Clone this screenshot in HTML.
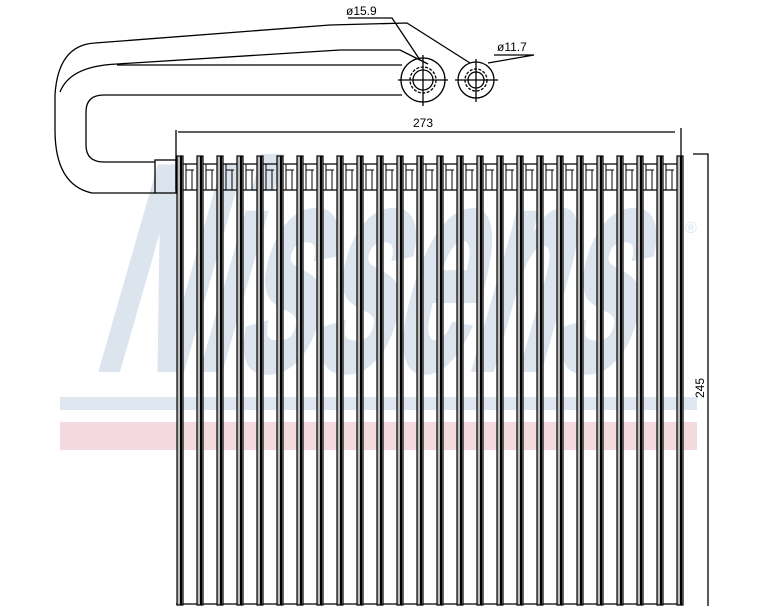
<!DOCTYPE html>
<html><head><meta charset="utf-8"><style>
html,body{margin:0;padding:0;background:#fff;width:765px;height:612px;overflow:hidden}
svg{display:block}
</style></head><body>
<svg width="765" height="612" viewBox="0 0 765 612" xmlns="http://www.w3.org/2000/svg">
<!-- watermark -->
<g transform="translate(0,368) skewX(-16) translate(0,-368)">
<text x="92" y="368" font-family="Liberation Sans, sans-serif" font-weight="bold" font-size="290" fill="#dce5ee" stroke="#dce5ee" stroke-width="8" textLength="535" lengthAdjust="spacingAndGlyphs">Nissens</text>
</g>
<text x="685" y="233" font-family="Liberation Sans, sans-serif" font-size="16" fill="#dde6ef">®</text>
<rect x="60" y="397" width="637" height="13" fill="#dfe7f0"/>
<rect x="60" y="422" width="637" height="28" fill="#f4dadf"/>

<g fill="none" stroke="#000" stroke-width="1.3">
<!-- pipes -->
<path d="M104,193 L92,193 Q55,185 55,130 L55,95 Q58,45 95,43 L330,25 L407,23 L470,63"/>
<path d="M60,92 Q70,66 117,64 L340,50 L400,50 L428,64"/>
<path d="M117,65 L402,65"/>
<path d="M402,95 L104,95 Q86,95 86,112 L86,145 Q86,162 104,162 L155,162"/>
<path d="M104,193 L155,193"/>
<rect x="155" y="160" width="21" height="33"/>
<!-- fittings -->
<circle cx="423" cy="80" r="22"/>
<circle cx="423" cy="80" r="13" stroke-dasharray="3,1.5"/>
<circle cx="423" cy="80" r="10"/>
<path d="M398,80 L448,80 M423,55 L423,106"/>
<circle cx="476" cy="80" r="18"/>
<circle cx="476" cy="80" r="11" stroke-dasharray="3,1.5"/>
<circle cx="476" cy="80" r="8"/>
<path d="M455,80 L498,80 M476,59 L476,102"/>
<!-- leaders -->
<path d="M348,18 L392,18 L420,60"/>
<path d="M494,55 L534,55 L488,63" />
<!-- dimensions -->
<path d="M176,130 L176,190 M681,128 L681,162 M178,132 L675,132"/>
<path d="M693,154 L708,154 L708,606"/>
<!-- header -->
<path d="M178,164 L680,164 M178,190 L680,190 M176,604 L682,604"/>
</g>
<g id="fins" stroke="#000" stroke-width="1" fill="none">
</g>
<g id="tubes"></g>
<script>
(function(){
var ns="http://www.w3.org/2000/svg",t=document.getElementById("tubes"),f=document.getElementById("fins");
for(var i=0;i<26;i++){
 var x=178+20*i;
 var r=document.createElementNS(ns,"rect");
 r.setAttribute("x",x-1);r.setAttribute("y",156);r.setAttribute("width",6);r.setAttribute("height",449);
 r.setAttribute("fill","#bbb");r.setAttribute("stroke","#000");r.setAttribute("stroke-width","1.2");t.appendChild(r);
 var l=document.createElementNS(ns,"rect");
 l.setAttribute("x",x+2);l.setAttribute("y",156);l.setAttribute("width",2);l.setAttribute("height",449);l.setAttribute("fill","#000");t.appendChild(l);
 if(i<25){
  var p=document.createElementNS(ns,"path");
  p.setAttribute("d","M"+(x+8)+",164 L"+(x+8)+",190 M"+(x+14)+",170 L"+(x+14)+",190 M"+(x+8)+",170 L"+(x+16)+",170");
  f.appendChild(p);
 }
}
})();
</script>
<g font-family="Liberation Sans, sans-serif" font-size="12" fill="#000">
<text x="346" y="15">ø15.9</text>
<text x="497" y="51">ø11.7</text>
<text x="413" y="127">273</text>
<text x="0" y="0" transform="translate(704,398) rotate(-90)">245</text>
</g>
</svg>
</body></html>
